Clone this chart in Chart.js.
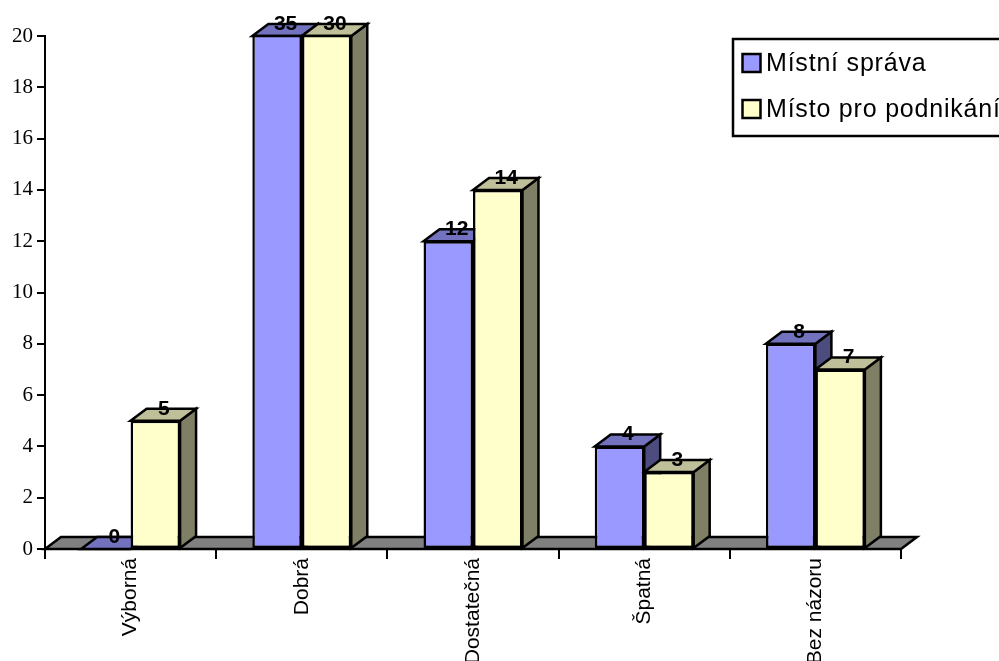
<!DOCTYPE html>
<html>
<head>
<meta charset="utf-8">
<title>Hodnocení</title>
<style>
  html, body { margin: 0; padding: 0; background: #fff; overflow: hidden; }
  canvas { display: block; }
</style>
<script src="https://cdn.jsdelivr.net/npm/chart.js@4/dist/chart.umd.min.js"></script>
</head>
<body>
<canvas id="chart" width="999" height="661"></canvas>
<script>
var categories = ['Výborná', 'Dobrá', 'Dostatečná', 'Špatná', 'Bez názoru'];
var seriesNames = ['Místní správa', 'Místo pro podnikání'];
var mistniSprava = [0, 35, 12, 4, 8];
var mistoPodnikani = [5, 30, 14, 3, 7];
var yMax = 20;
var yStep = 2;

var depthX = 16, depthY = 12;
var outline = 2.5;
var sansFont = '"Liberation Sans", Arial, sans-serif';
var serifFont = '"Liberation Serif", "Times New Roman", serif';

var colors = [
  { front: '#9999ff', top: '#7272bf', side: '#4c4c7f' },
  { front: '#ffffcc', top: '#bfbf99', side: '#7f7f66' }
];

function poly(ctx, pts, fill) {
  ctx.beginPath();
  ctx.moveTo(pts[0][0], pts[0][1]);
  for (var i = 1; i < pts.length; i++) ctx.lineTo(pts[i][0], pts[i][1]);
  ctx.closePath();
  ctx.fillStyle = fill;
  ctx.fill();
  ctx.stroke();
}

// extents of a bar, cut off at the top of the plot like the original
function barBox(bar, area) {
  return {
    left: bar.x - bar.width / 2,
    right: bar.x + bar.width / 2,
    top: Math.max(bar.y, area.top),
    bottom: bar.base
  };
}

var box3d = {
  id: 'box3d',
  beforeDatasetsDraw: function(chart) {
    var ctx = chart.ctx, a = chart.chartArea;
    ctx.save();
    ctx.strokeStyle = '#000';
    ctx.lineWidth = outline;
    ctx.lineJoin = 'miter';
    // floor
    poly(ctx, [[a.left, a.bottom], [a.left + depthX, a.bottom - depthY],
      [a.right + depthX, a.bottom - depthY], [a.right, a.bottom]], '#808080');
    // side and top faces, the fronts come from the bar elements
    for (var i = 0; i < categories.length; i++) {
      for (var d = 0; d < chart.data.datasets.length; d++) {
        var b = barBox(chart.getDatasetMeta(d).data[i], a);
        poly(ctx, [[b.right, b.top], [b.right + depthX, b.top - depthY],
          [b.right + depthX, b.bottom - depthY], [b.right, b.bottom]], colors[d].side);
        poly(ctx, [[b.left, b.top], [b.left + depthX, b.top - depthY],
          [b.right + depthX, b.top - depthY], [b.right, b.top]], colors[d].top);
      }
    }
    ctx.restore();
  },
  afterDatasetsDraw: function(chart) {
    var ctx = chart.ctx, a = chart.chartArea;
    ctx.save();
    ctx.strokeStyle = '#000';
    ctx.lineWidth = outline;
    ctx.fillStyle = '#000';
    ctx.font = 'bold 21px ' + sansFont;
    ctx.textAlign = 'center';
    ctx.textBaseline = 'middle';
    chart.data.datasets.forEach(function(ds, d) {
      chart.getDatasetMeta(d).data.forEach(function(bar, i) {
        var b = barBox(bar, a);
        if (bar.y < a.top) {
          ctx.beginPath();
          ctx.moveTo(b.left, b.top);
          ctx.lineTo(b.right, b.top);
          ctx.stroke();
        }
      });
    });
    chart.data.datasets.forEach(function(ds, d) {
      chart.getDatasetMeta(d).data.forEach(function(bar, i) {
        var b = barBox(bar, a);
        ctx.fillText(String(ds.data[i]), bar.x + depthX / 2 + 0.5, b.top - depthY);
      });
    });
    ctx.restore();
  },
  afterDraw: function(chart) {
    var ctx = chart.ctx;
    ctx.save();
    ctx.strokeStyle = '#000';
    ctx.lineWidth = outline;
    ctx.fillStyle = '#fff';
    ctx.fillRect(733, 39, 268, 97);
    ctx.strokeRect(733, 39, 268, 97);
    ctx.font = '25px ' + sansFont;
    ctx.letterSpacing = '0.8px';
    ctx.textAlign = 'left';
    ctx.textBaseline = 'middle';
    seriesNames.forEach(function(name, d) {
      var y = 63 + d * 46;
      ctx.fillStyle = colors[d].front;
      ctx.fillRect(742.5, y - 9, 18, 18);
      ctx.strokeRect(742.5, y - 9, 18, 18);
      ctx.fillStyle = '#000';
      ctx.fillText(name, 766, y + 1.5);
    });
    ctx.restore();
  }
};

new Chart(document.getElementById('chart'), {
  type: 'bar',
  data: {
    labels: categories,
    datasets: [
      { label: seriesNames[0], data: mistniSprava, backgroundColor: colors[0].front },
      { label: seriesNames[1], data: mistoPodnikani, backgroundColor: colors[1].front }
    ]
  },
  options: {
    responsive: false,
    animation: false,
    devicePixelRatio: 1,
    layout: { padding: { top: 36, right: 98, left: 0, bottom: 0 } },
    categoryPercentage: 0.578,
    barPercentage: 1,
    elements: { bar: { borderColor: '#000', borderWidth: outline, borderSkipped: false } },
    plugins: { legend: { display: false }, tooltip: { enabled: false } },
    scales: {
      x: {
        offset: true,
        afterFit: function(s) { s.height = 112; },
        border: { color: '#000', width: 2 },
        grid: { offset: true, drawOnChartArea: false, color: '#000', lineWidth: 2, tickLength: 10 },
        ticks: {
          autoSkip: false, minRotation: 90, maxRotation: 90, padding: -1,
          color: '#000', font: { family: sansFont, size: 21 }
        }
      },
      y: {
        min: 0,
        max: yMax,
        afterFit: function(s) { s.width = 45; },
        border: { color: '#000', width: 2 },
        grid: { drawOnChartArea: false, color: '#000', lineWidth: 2, tickLength: 8 },
        ticks: {
          stepSize: yStep, padding: 4, color: '#000',
          font: { family: serifFont, size: 21 }
        }
      }
    }
  },
  plugins: [box3d]
});
</script>
</body>
</html>
